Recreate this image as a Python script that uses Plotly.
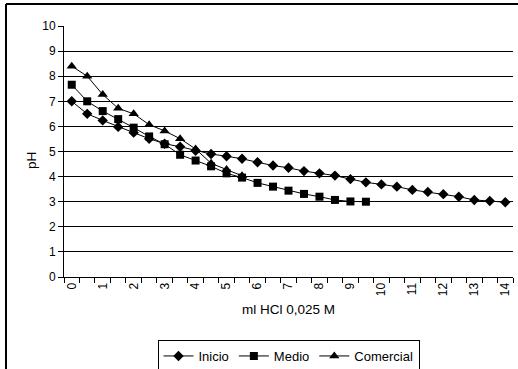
import plotly.graph_objects as go

# Volume of titrant added (ml HCl 0,025 M), in 0.5 ml steps
x_inicio = [i * 0.5 for i in range(29)]
ph_inicio = [7.0, 6.5, 6.24, 5.98, 5.75, 5.51, 5.31, 5.19, 5.03, 4.9, 4.81, 4.71,
             4.57, 4.44, 4.35, 4.22, 4.13, 4.04, 3.9, 3.77, 3.69, 3.6, 3.47,
             3.39, 3.3, 3.2, 3.07, 3.03, 2.98]

x_medio = [i * 0.5 for i in range(20)]
ph_medio = [7.66, 7.0, 6.61, 6.29, 5.95, 5.6, 5.29, 4.87, 4.64, 4.41, 4.13,
            3.96, 3.75, 3.6, 3.44, 3.31, 3.2, 3.07, 3.01, 3.0]

x_comercial = [i * 0.5 for i in range(12)]
ph_comercial = [8.4, 8.0, 7.27, 6.72, 6.5, 6.07, 5.82, 5.51, 5.1, 4.53, 4.28, 4.03]

y_ticks = list(range(0, 11))
x_ticks = list(range(0, 15))

W, H = 518, 369
L, R, T, B = 64, 5, 26, 92
pw, ph = W - L - R, H - T - B

def px(xp):
    return (xp - L) / pw

def py(yp):
    return (H - B - yp) / ph

fig = go.Figure()
fig.add_trace(go.Scatter(x=x_inicio, y=ph_inicio, name="Inicio", mode="lines+markers",
                         line=dict(color="black", width=1),
                         marker=dict(symbol="diamond", size=8, color="black")))
fig.add_trace(go.Scatter(x=x_medio, y=ph_medio, name="Medio", mode="lines+markers",
                         line=dict(color="black", width=1),
                         marker=dict(symbol="square", size=8, color="black")))
fig.add_trace(go.Scatter(x=x_comercial, y=ph_comercial, name="Comercial", mode="lines+markers",
                         line=dict(color="black", width=1),
                         marker=dict(symbol="triangle-up", size=9, color="black")))

font = dict(family="Liberation Sans, Arial, sans-serif", color="black")

fig.update_layout(
    width=W, height=H,
    margin=dict(l=L, r=R, t=T, b=B, autoexpand=False),
    paper_bgcolor="white", plot_bgcolor="white",
    font=dict(**font, size=12),
    showlegend=True,
    legend=dict(orientation="h", x=0.5, xanchor="center", y=py(340), yanchor="top",
                bordercolor="black", borderwidth=1, bgcolor="white",
                font=dict(**font, size=13), itemwidth=30,
                tracegroupgap=0),
    xaxis=dict(range=[-0.25, 14.25], tickmode="array", tickvals=x_ticks,
               ticktext=[str(v) for v in x_ticks], tickangle=-90, ticks="",
               showgrid=False, zeroline=False, showline=True, linecolor="black",
               linewidth=1, tickfont=dict(**font, size=12), automargin=False,
               title=dict(text="ml HCl 0,025 M", font=dict(**font, size=13.5), standoff=9),
               minor=dict(ticks="outside", tick0=-0.25, dtick=0.5, ticklen=5,
                          tickcolor="black", tickwidth=1, showgrid=False)),
    yaxis=dict(range=[0, 10], tickmode="array", tickvals=y_ticks, ticks="outside",
               ticklen=5, tickcolor="black", showgrid=True, gridcolor="black",
               gridwidth=1, zeroline=False, showline=True, linecolor="black",
               linewidth=1, tickfont=dict(**font, size=12), automargin=False),
    annotations=[
        dict(text="pH", xref="paper", yref="paper", x=px(31), y=py(161),
             xanchor="center", yanchor="middle", textangle=-90, showarrow=False,
             font=dict(**font, size=13.5)),
    ],
    shapes=[
        dict(type="line", xref="paper", yref="paper", x0=px(6), x1=px(W), y0=py(4), y1=py(4),
             line=dict(color="black", width=2)),
        dict(type="line", xref="paper", yref="paper", x0=px(6), x1=px(6), y0=py(4), y1=py(H),
             line=dict(color="black", width=2)),
    ],
)

fig.write_html("out.html")
